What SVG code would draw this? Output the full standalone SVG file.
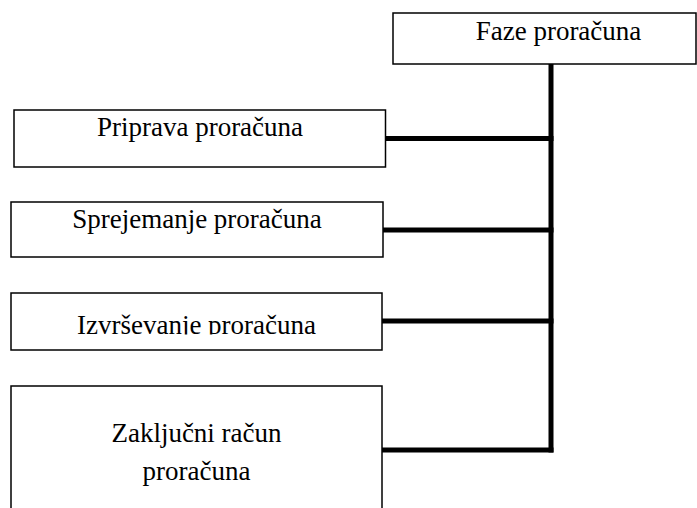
<svg xmlns="http://www.w3.org/2000/svg" width="697" height="508" viewBox="0 0 697 508">
<style>
.box{fill:#fff;stroke:#000;stroke-width:1.5}
.lbl{font-family:"Liberation Serif","Times New Roman",serif;font-size:27px;fill:#000;text-anchor:middle}
.con{fill:none;stroke:#000;stroke-width:5}
</style>
<defs>
<clipPath id="clip3"><rect x="0" y="290" width="400" height="44.5"/></clipPath>
</defs>
<rect width="697" height="508" fill="#fff"/>
<g id="connectors">
<line class="con" x1="551" y1="64" x2="551" y2="452.5"/>
<line class="con" x1="386" y1="138.5" x2="553.5" y2="138.5"/>
<line class="con" x1="383" y1="230" x2="553.5" y2="230"/>
<line class="con" x1="382" y1="321" x2="553.5" y2="321"/>
<line class="con" x1="382" y1="450" x2="553.5" y2="450"/>
</g>
<g id="faze">
<rect class="box" x="393" y="13" width="303" height="51"/>
<text class="lbl" x="558.5" y="40">Faze proračuna</text>
</g>
<g id="priprava">
<rect class="box" x="14" y="110" width="371.5" height="57"/>
<text class="lbl" x="200" y="136">Priprava proračuna</text>
</g>
<g id="sprejemanje">
<rect class="box" x="11" y="202" width="372" height="55"/>
<text class="lbl" x="197" y="228">Sprejemanje proračuna</text>
</g>
<g id="izvrsevanje">
<rect class="box" x="11" y="293" width="371" height="57"/>
<text class="lbl" x="196.5" y="334" clip-path="url(#clip3)">Izvrševanje proračuna</text>
</g>
<g id="zakljucni">
<rect class="box" x="11" y="386" width="371" height="130"/>
<text class="lbl" x="196.5" y="442">Zaključni račun</text>
<text class="lbl" x="196.5" y="480">proračuna</text>
</g>
</svg>
